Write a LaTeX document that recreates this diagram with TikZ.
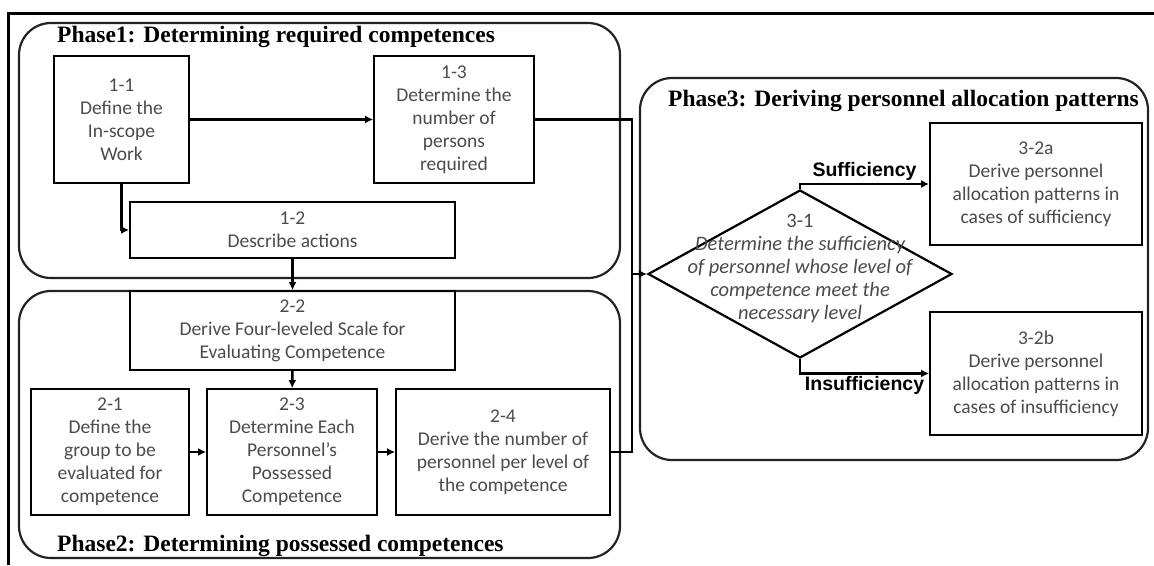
\documentclass[tikz,border=0pt]{standalone}
\usepackage{fontspec}
\setmainfont{Carlito}
\newfontfamily\phasefont{Liberation Serif}
\newfontfamily\branchfont{Liberation Sans}
\usepackage{tikz}
\usetikzlibrary{positioning,arrows.meta,shapes.geometric}
\definecolor{boxtext}{RGB}{75,75,75}
\definecolor{framegray}{RGB}{35,35,35}

\begin{document}
\begin{tikzpicture}[
    x=1pt, y=-1pt,
    font=\fontsize{19.5}{23}\selectfont,
    box/.style={draw, line width=1.8pt, align=center, text=boxtext, inner sep=2pt},
    phase/.style={draw=framegray, line width=2.2pt, rounded corners=32pt, inner sep=0pt},
    phasetitle/.style={anchor=west, inner sep=0pt, font=\phasefont\bfseries\fontsize{23.5}{26}\selectfont},
    dia/.style={draw, diamond, line width=2.2pt, minimum width=304pt, minimum height=168pt, inner sep=0pt},
    diatext/.style={align=center, text=boxtext, font=\itshape\fontsize{20.5}{23}\selectfont},
    branch/.style={font=\branchfont\bfseries\fontsize{19.5}{22}\selectfont, inner sep=2pt},
    arr/.style={-{Latex[length=8pt,width=8pt]}, line width=2.5pt},
    link/.style={line width=2.5pt}
]
\useasboundingbox (0,0) rectangle (1154,565);

% frame and phases
\draw[line width=3pt] (8,565) -- (8,13) -- (1154,13);
\node[phase, minimum width=601pt, minimum height=255pt] (ph1) at (319.5,150.5) {};
\node[phase, minimum width=601pt, minimum height=267pt] (ph2) at (319.5,424.5) {};
\node[phase, minimum width=508pt, minimum height=382pt] (ph3) at (894,269) {};
\node[phasetitle] (ph1t) at (57,37) {Phase1: Determining required competences};
\node[phasetitle] (ph2t) at (57,546) {Phase2: Determining possessed competences};
\node[phasetitle] (ph3t) at (668,101) {Phase3: Deriving personnel allocation patterns};

% phase 1
\node[box, minimum width=135pt, minimum height=127pt] (b11) at (121.5,119.5) {1-1\\Define the\\In-scope\\Work};
\node[box, minimum width=160pt, minimum height=127pt] (b13) at (454,119.5) {1-3\\Determine the\\number of\\persons\\required};
\node[box, minimum width=325pt, minimum height=56pt] (b12) at (292.5,230) {1-2\\Describe actions};

% phase 2
\node[box, minimum width=325pt, minimum height=79pt] (b22) at (292.5,330.5) {2-2\\Derive Four-leveled Scale for\\Evaluating Competence};
\node[box, minimum width=158pt, minimum height=126pt] (b21) at (110,452) {2-1\\Define the\\group to be\\evaluated for\\competence};
\node[box, minimum width=170pt, minimum height=126pt] (b23) at (292,452) {2-3\\Determine Each\\Personnel's\\Possessed\\Competence};
\node[box, minimum width=214pt, minimum height=126pt] (b24) at (503,452) {2-4\\Derive the number of\\personnel per level of\\the competence};

% phase 3
\node[dia] (d31) at (800,274) {};
\node[diatext] (d31t) at (800,268) {{\upshape 3-1}\\Determine the sufficiency\\of personnel whose level of\\competence meet the\\necessary level};
\node[box, minimum width=212pt, minimum height=122pt] (b32a) at (1036,184) {3-2a\\Derive personnel\\allocation patterns in\\cases of sufficiency};
\node[box, minimum width=212pt, minimum height=123pt] (b32b) at (1036,373.5) {3-2b\\Derive personnel\\allocation patterns in\\cases of insufficiency};

\coordinate (jn) at (632,274);

\draw[arr] (b11) -- (b13);
\draw[arr] (b11.south) |- (b12.west);
\draw[arr] (b12) -- (b22);
\draw[arr] (b22) -- (b23);
\draw[arr] (b21) -- (b23);
\draw[arr] (b23) -- (b24);
\draw[link] (b13.east) -| (jn);
\draw[link] (b24.east) -| (jn);
\draw[arr] (jn) -- (d31.west);
\draw[arr] (d31.north) |- node[branch, pos=0.75, above] (suf) {Sufficiency} (b32a.west);
\draw[arr] (d31.south) |- node[branch, pos=0.75, below] (insuf) {Insufficiency} (b32b.west);
\end{tikzpicture}
\end{document}
